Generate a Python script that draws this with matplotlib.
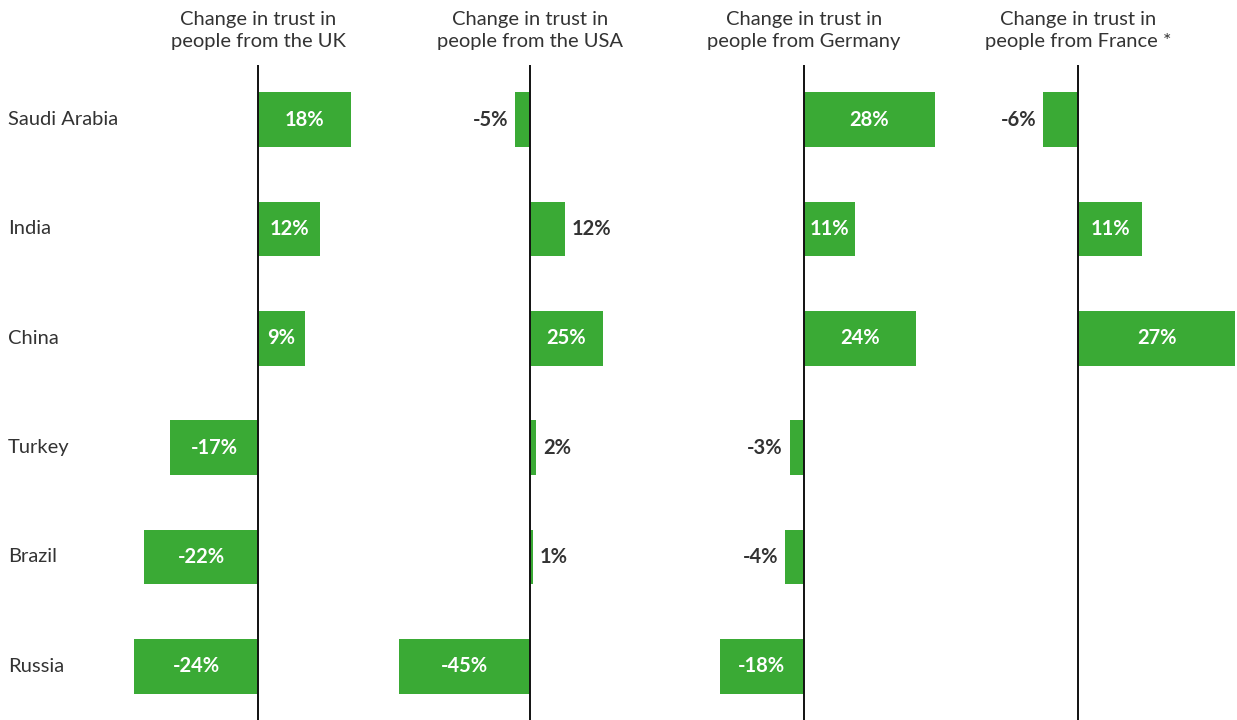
import matplotlib
matplotlib.use("Agg")
import matplotlib.pyplot as plt

plt.rcParams["font.family"] = ["Lato", "DejaVu Sans"]

countries = ["Saudi Arabia", "India", "China", "Turkey", "Brazil", "Russia"]
panel_titles = [
    "Change in trust in\npeople from the UK",
    "Change in trust in\npeople from the USA",
    "Change in trust in\npeople from Germany",
    "Change in trust in\npeople from France *",
]
uk_change = [18, 12, 9, -17, -22, -24]
usa_change = [-5, 12, 25, 2, 1, -45]
germany_change = [28, 11, 24, -3, -4, -18]
france_change = [-6, 11, 27, None, None, None]
series = [uk_change, usa_change, germany_change, france_change]

GREEN = "#3aaa35"
DARK = "#333333"

W, H = 1237, 720
fig = plt.figure(figsize=(W / 100, H / 100), dpi=100)

# per panel: axes left/right edge (px), zero line position (px), px per percentage point
layout = [
    (120, 390, 258, 5.17),
    (390, 680, 530, 2.92),
    (680, 970, 804, 4.68),
    (970, 1237, 1078, 5.83),
]
top_px, bottom_px = 65, 721

for title, vals, (L, R, x0, s) in zip(panel_titles, series, layout):
    ax = fig.add_axes([L / W, 1 - bottom_px / H, (R - L) / W, (bottom_px - top_px) / H])
    ax.set_facecolor("none")
    ax.set_xlim((L - x0) / s, (R - x0) / s)
    ax.set_ylim(len(countries) - 0.5, -0.5)
    ax.axis("off")
    ax.axvline(0, color="#111111", lw=1.4, zorder=3)
    for i, v in enumerate(vals):
        if v is None:
            continue
        ax.barh(i, v, height=0.5, color=GREEN, zorder=2)
        label = f"{v}%"
        if abs(v) * s > 42:
            ax.text(v / 2, i, label, ha="center", va="center", color="white",
                    fontsize=14.5, fontweight="bold", zorder=4)
        else:
            off = 7 / s
            if v >= 0:
                ax.text(v + off, i, label, ha="left", va="center", color=DARK,
                        fontsize=14.5, fontweight="bold")
            else:
                ax.text(v - off, i, label, ha="right", va="center", color=DARK,
                        fontsize=14.5, fontweight="bold")
    fig.text(x0 / W, 1 - 30.5 / H, title, ha="center", va="center", color=DARK,
             fontsize=14.5, linespacing=1.42)

# country names down the left edge
row_h = (bottom_px - top_px) / len(countries)
for i, c in enumerate(countries):
    y = top_px + row_h * (i + 0.5)
    fig.text(8 / W, 1 - y / H, c, ha="left", va="center", color=DARK, fontsize=14.5)

fig.savefig("out.png", dpi=100, facecolor="white")
